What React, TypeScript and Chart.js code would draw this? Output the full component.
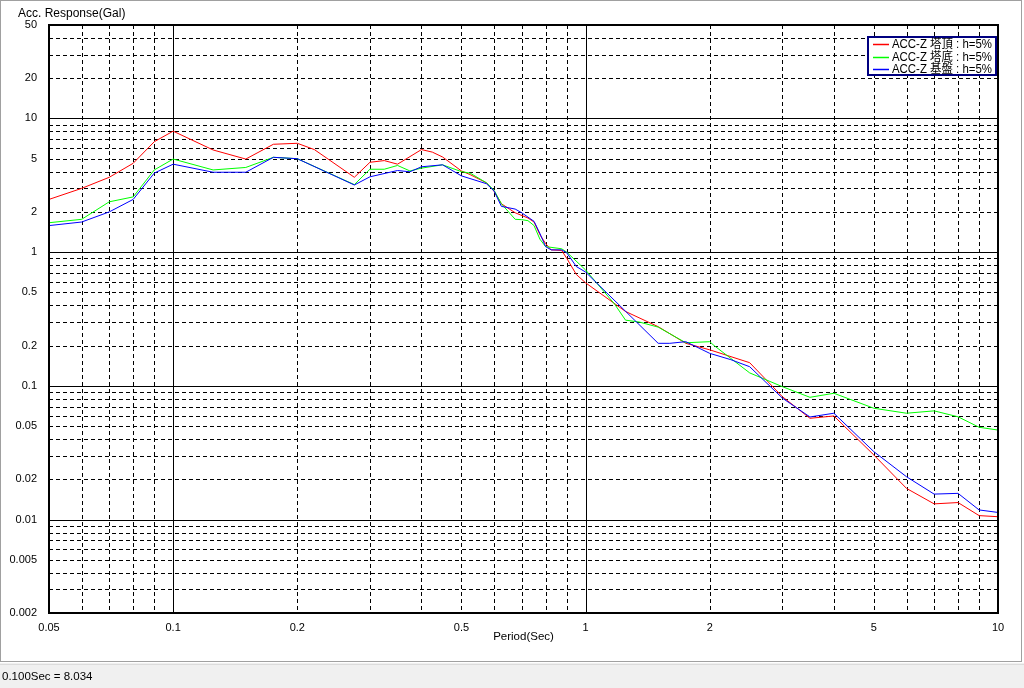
import React, { useEffect, useRef } from "react";
import { Chart, registerables } from "chart.js";

Chart.register(...registerables);

// ---- data ----
const redPeriods = [0.05, 0.06, 0.07, 0.08, 0.09, 0.1, 0.125, 0.15, 0.175, 0.2, 0.22, 0.275, 0.3, 0.325, 0.35, 0.4, 0.425, 0.45, 0.5, 0.525, 0.575, 0.6, 0.625, 0.675, 0.725, 0.75, 0.775, 0.8, 0.825, 0.875, 0.9, 0.95, 1.0, 1.25, 1.5, 1.75, 2.0, 2.5, 3.0, 3.5, 4.0, 5.0, 6.0, 7.0, 8.0, 9.0, 10.0];
const redValues = [2.48, 3.0, 3.63, 4.62, 6.7, 8.034, 5.81, 4.97, 6.41, 6.52, 5.85, 3.63, 4.7, 4.84, 4.55, 5.85, 5.6, 5.15, 4.05, 3.8, 3.3, 2.85, 2.3, 1.97, 1.8, 1.68, 1.35, 1.16, 1.04, 1.03, 0.9, 0.68, 0.59, 0.36, 0.277, 0.208, 0.186, 0.149, 0.083, 0.0572, 0.0595, 0.0304, 0.0171, 0.0131, 0.0134, 0.0107, 0.0105];

const greenPeriods = [0.05, 0.06, 0.07, 0.08, 0.09, 0.1, 0.125, 0.15, 0.175, 0.2, 0.275, 0.3, 0.325, 0.35, 0.375, 0.4, 0.45, 0.5, 0.525, 0.575, 0.6, 0.625, 0.675, 0.7, 0.725, 0.75, 0.775, 0.8, 0.875, 0.9, 1.0, 1.175, 1.25, 1.35, 1.5, 1.75, 2.0, 2.05, 2.5, 3.0, 3.5, 4.0, 5.0, 6.0, 7.0, 8.0, 9.0, 10.0];
const greenValues = [1.66, 1.76, 2.38, 2.59, 4.12, 4.97, 4.12, 4.3, 5.12, 5.0, 3.2, 4.17, 4.17, 4.45, 4.05, 4.25, 4.5, 4.0, 3.9, 3.3, 2.9, 2.3, 1.76, 1.75, 1.72, 1.58, 1.25, 1.1, 1.06, 1.0, 0.736, 0.41, 0.31, 0.3, 0.275, 0.21, 0.214, 0.2, 0.125, 0.0986, 0.0821, 0.088, 0.068, 0.0624, 0.065, 0.0587, 0.049, 0.0467];

const bluePeriods = [0.05, 0.06, 0.07, 0.08, 0.09, 0.1, 0.125, 0.15, 0.175, 0.2, 0.275, 0.3, 0.35, 0.375, 0.4, 0.45, 0.5, 0.575, 0.6, 0.625, 0.675, 0.7, 0.75, 0.775, 0.8, 0.825, 0.875, 0.9, 0.95, 1.0, 1.5, 1.6, 1.75, 2.0, 2.25, 2.5, 3.0, 3.5, 4.0, 5.0, 6.0, 7.0, 8.0, 9.0, 10.0];
const blueValues = [1.58, 1.68, 2.0, 2.48, 3.9, 4.55, 3.96, 3.96, 5.12, 5.0, 3.18, 3.66, 4.08, 3.99, 4.35, 4.5, 3.72, 3.25, 2.87, 2.2, 2.1, 1.97, 1.7, 1.38, 1.1, 1.04, 1.04, 0.99, 0.78, 0.71, 0.208, 0.208, 0.214, 0.175, 0.157, 0.139, 0.081, 0.0585, 0.0624, 0.0322, 0.0209, 0.0155, 0.0157, 0.0118, 0.0113];

const seriesLabels = ["ACC-Z 塔頂 : h=5%", "ACC-Z 塔底 : h=5%", "ACC-Z 基盤 : h=5%"];
const seriesColors = ["#ff0000", "#00ff00", "#0000ff"];

const xTickLabels = [0.05, 0.1, 0.2, 0.5, 1, 2, 5, 10];
const yTickLabels = [0.002, 0.005, 0.01, 0.02, 0.05, 0.1, 0.2, 0.5, 1, 2, 5, 10, 20, 50];
const xMin = 0.05, xMax = 10;
const yMin = 0.002, yMax = 50;
const xDecades = [0.01, 0.1, 1];
const yDecades = [0.001, 0.01, 0.1, 1, 10];
const decadeSteps = [1, 2, 3, 4, 5, 6, 7, 8, 9];

const yAxisTitle = "Acc. Response(Gal)";
const xAxisTitle = "Period(Sec)";
const statusText = "0.100Sec = 8.034";

const W = 1024, H = 688;
const TEXT_FONT = "'Liberation Sans', 'Noto Sans CJK JP', sans-serif";
const TICK_FONT = "'Liberation Sans', sans-serif";

function gridValues(decades: number[], lo: number, hi: number) {
  const out: { v: number; major: boolean }[] = [];
  for (const d of decades) {
    for (const s of decadeSteps) {
      const v = +(d * s).toPrecision(6);
      if (v > lo * 1.0001 && v < hi * 0.9999) out.push({ v, major: s === 1 });
    }
  }
  return out;
}

const framePlugin = {
  id: "winframe",
  beforeDraw(chart: any) {
    const ctx = chart.ctx;
    ctx.save();
    ctx.fillStyle = "#ffffff";
    ctx.fillRect(0, 0, W, H);
    ctx.strokeStyle = "#a0a0a0";
    ctx.lineWidth = 1;
    ctx.strokeRect(0.5, 0.5, 1021, 661);
    ctx.fillStyle = "#f0f0f0";
    ctx.fillRect(0, 663, W, H - 663);
    ctx.strokeStyle = "#dcdcdc";
    ctx.beginPath();
    ctx.moveTo(0, 664.5);
    ctx.lineTo(W, 664.5);
    ctx.stroke();
    ctx.fillStyle = "#000";
    ctx.textBaseline = "middle";
    ctx.textAlign = "left";
    ctx.font = "11.5px " + TEXT_FONT;
    ctx.fillText(statusText, 2, 676.5);
    ctx.font = "12px " + TEXT_FONT;
    ctx.fillText(yAxisTitle, 18, 14);
    ctx.restore();
  },
  beforeDatasetsDraw(chart: any) {
    const ctx = chart.ctx;
    const { left, right, top, bottom } = chart.chartArea;
    const xs = chart.scales.x, ys = chart.scales.y;
    ctx.save();
    ctx.lineWidth = 1;
    ctx.strokeStyle = "#000";
    for (const g of gridValues(xDecades, xMin, xMax)) {
      const px = Math.round(xs.getPixelForValue(g.v)) + 0.5;
      ctx.setLineDash(g.major ? [] : [4, 3]);
      ctx.beginPath();
      ctx.moveTo(px, top);
      ctx.lineTo(px, bottom);
      ctx.stroke();
    }
    for (const g of gridValues(yDecades, yMin, yMax)) {
      const py = Math.round(ys.getPixelForValue(g.v)) + 0.5;
      ctx.setLineDash(g.major ? [] : [4, 3]);
      ctx.beginPath();
      ctx.moveTo(left, py);
      ctx.lineTo(right, py);
      ctx.stroke();
    }
    ctx.restore();
  },
  afterDatasetsDraw(chart: any) {
    const ctx = chart.ctx;
    const { left, right, top, bottom } = chart.chartArea;
    ctx.save();
    ctx.setLineDash([]);
    ctx.strokeStyle = "#000";
    ctx.lineWidth = 2;
    ctx.strokeRect(left, top, right - left, bottom - top);
    // legend box
    const bx = 868, by = 37, bw = 128, bh = 38;
    ctx.fillStyle = "#fff";
    ctx.fillRect(bx, by, bw, bh);
    ctx.strokeStyle = "#000080";
    ctx.lineWidth = 2;
    ctx.strokeRect(bx, by, bw, bh);
    ctx.font = "12px " + TEXT_FONT;
    ctx.textBaseline = "middle";
    ctx.textAlign = "left";
    seriesLabels.forEach((label, i) => {
      const ry = Math.round(by + 7 + i * 12.5);
      ctx.strokeStyle = seriesColors[i];
      ctx.lineWidth = 1.5;
      ctx.beginPath();
      ctx.moveTo(873, ry + 0.5);
      ctx.lineTo(889, ry + 0.5);
      ctx.stroke();
      ctx.fillStyle = "#000";
      ctx.fillText(label, 892, ry + 1, 100);
    });
    ctx.restore();
  },
};

function toPoints(px: number[], py: number[]) {
  return px.map((x, i) => ({ x, y: py[i] }));
}

export default function App() {
  const ref = useRef<HTMLCanvasElement | null>(null);
  useEffect(() => {
    if (!ref.current) return;
    const chart = new Chart(ref.current, {
      type: "line",
      data: {
        datasets: [
          { label: seriesLabels[0], data: toPoints(redPeriods, redValues), borderColor: seriesColors[0], order: 3 },
          { label: seriesLabels[1], data: toPoints(greenPeriods, greenValues), borderColor: seriesColors[1], order: 2 },
          { label: seriesLabels[2], data: toPoints(bluePeriods, blueValues), borderColor: seriesColors[2], order: 1 },
        ].map((d) => ({ ...d, borderWidth: 1, pointRadius: 0, fill: false, tension: 0 })),
      },
      options: {
        responsive: false,
        animation: false,
        devicePixelRatio: 1,
        layout: { padding: { left: 0, top: 25, right: 26, bottom: 43 } },
        plugins: { legend: { display: false }, tooltip: { enabled: false } },
        scales: {
          x: {
            type: "logarithmic",
            min: xMin,
            max: xMax,
            grid: { display: false },
            border: { display: false },
            afterBuildTicks: (s: any) => {
              s.ticks = xTickLabels.map((v) => ({ value: v }));
            },
            afterFit: (s: any) => {
              s.height = 32;
            },
            ticks: {
              autoSkip: false,
              maxRotation: 0,
              padding: 0,
              color: "#000",
              font: { family: TICK_FONT, size: 11 },
              callback: (v: any) => String(v),
            },
            title: {
              display: true,
              text: xAxisTitle,
              color: "#000",
              font: { family: TEXT_FONT, size: 11.5 },
              padding: { top: 0, bottom: 1 },
            },
          },
          y: {
            type: "logarithmic",
            min: yMin,
            max: yMax,
            grid: { display: false },
            border: { display: false },
            afterBuildTicks: (s: any) => {
              s.ticks = yTickLabels.map((v) => ({ value: v }));
            },
            afterFit: (s: any) => {
              s.width = 49;
            },
            ticks: {
              autoSkip: false,
              padding: 4,
              color: "#000",
              font: { family: TICK_FONT, size: 11 },
              callback: (v: any) => String(v),
            },
          },
        },
      },
      plugins: [framePlugin],
    } as any);
    return () => chart.destroy();
  }, []);
  return (
    <div style={{ position: "fixed", left: 0, top: 0, width: W, height: H, background: "#fff" }}>
      <canvas ref={ref} width={W} height={H} style={{ width: W, height: H, display: "block" }} />
    </div>
  );
}
